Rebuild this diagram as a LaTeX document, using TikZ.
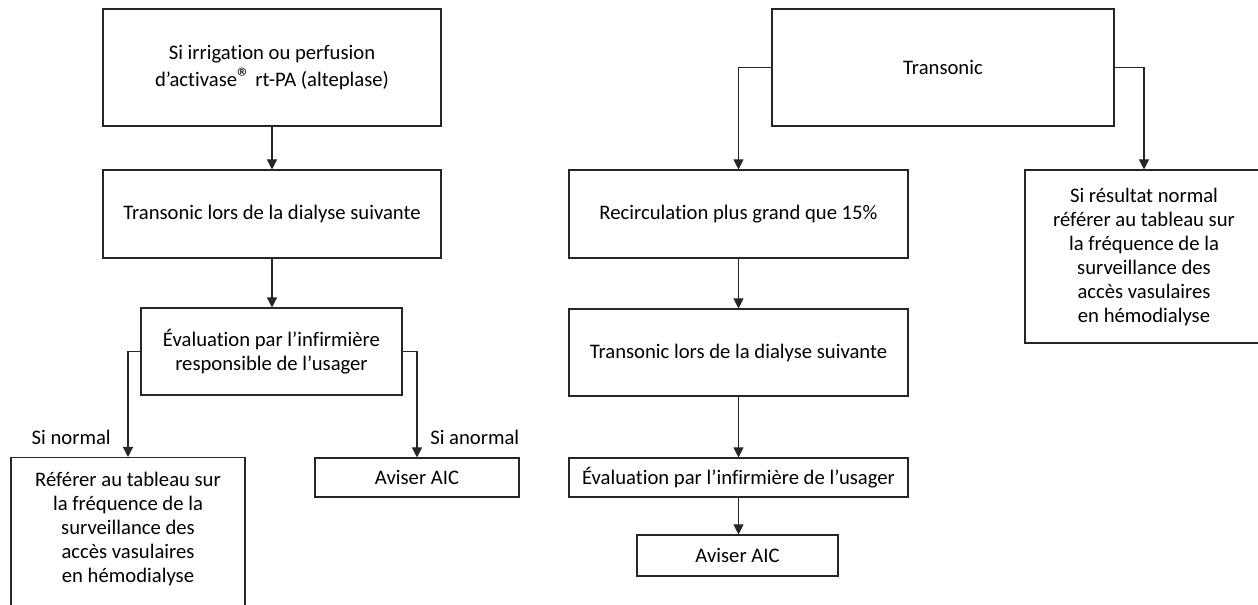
\documentclass[tikz,border=0pt]{standalone}
\usepackage{fontspec}
\setmainfont{Carlito}[Ligatures=NoCommon]
\usetikzlibrary{arrows.meta}

\tikzset{
  box/.style={draw=black!85, line width=0.8pt, align=center, inner sep=0pt,
    font=\fontsize{15.5}{18}\selectfont},
  link/.style={draw=black!85, line width=0.8pt, -{Triangle[length=7.5pt,width=7.5pt]}},
  tag/.style={font=\fontsize{15.5}{18}\selectfont, inner sep=0pt}
}

\begin{document}
\begin{tikzpicture}[x=0.75pt,y=-0.75pt]
\useasboundingbox (0,0) rectangle (1258,605);
% left column
\node[box, minimum width=253.5pt, minimum height=87.75pt, font=\fontsize{15.5}{20}\selectfont] (v0) at (272,67.5) {Si irrigation ou perfusion\\d’activase{\fontsize{20}{20}\selectfont ®} rt-PA (alteplase)};
\node[box, minimum width=253.5pt, minimum height=66pt] (v1) at (272,214) {Transonic lors de la dialyse suivante};
\node[box, minimum width=195.75pt, minimum height=65.25pt] (v2) at (271.5,351.5) {Évaluation par l’infirmière\\responsible de l’usager};
\node[box, anchor=north, minimum width=175.5pt, inner ysep=11pt, text depth=60pt] (v3) at (128,457) {Référer au tableau sur\\la fréquence de la\\surveillance des\\accès vasulaires\\en hémodialyse};
\node[box, minimum width=153pt, minimum height=29.25pt] (v4) at (417,477.5) {Aviser AIC};
\node[tag, anchor=east] (l0) at (111,437) {Si normal};
\node[tag, anchor=west] (l1) at (430,437) {Si anormal};
% right column
\node[box, minimum width=256.5pt, minimum height=87.75pt] (v5) at (943,67.5) {Transonic};
\node[box, minimum width=254.25pt, minimum height=66pt] (v6) at (738.5,214) {Recirculation plus grand que 15\%};
\node[box, minimum width=178.5pt, minimum height=129.75pt] (v7) at (1144,256.5) {Si résultat normal\\référer au tableau sur\\la fréquence de la\\surveillance des\\accès vasulaires\\en hémodialyse};
\node[box, minimum width=254.25pt, minimum height=65.25pt] (v8) at (738.5,352.5) {Transonic lors de la dialyse suivante};
\node[box, minimum width=254.25pt, minimum height=29.25pt] (v9) at (738.5,477.5) {Évaluation par l’infirmière de l’usager};
\node[box, minimum width=150.75pt, minimum height=30.75pt] (v10) at (737.5,555.5) {Aviser AIC};
\draw [link] (v0) -- (v1);
\draw [link] (v1.south) -- (v1.south |- v2.north);
\draw [link] (v2.west) -| (v3.north);
\draw [link] (v2.east) -| (v4.north);
\draw [link] (v5.west) -| (v6.north);
\draw [link] (v5.east) -| (v7.north);
\draw [link] (v6) -- (v8);
\draw [link] (v8) -- (v9);
\draw [link] (v9.south) -- (v9.south |- v10.north);
\end{tikzpicture}
\end{document}
